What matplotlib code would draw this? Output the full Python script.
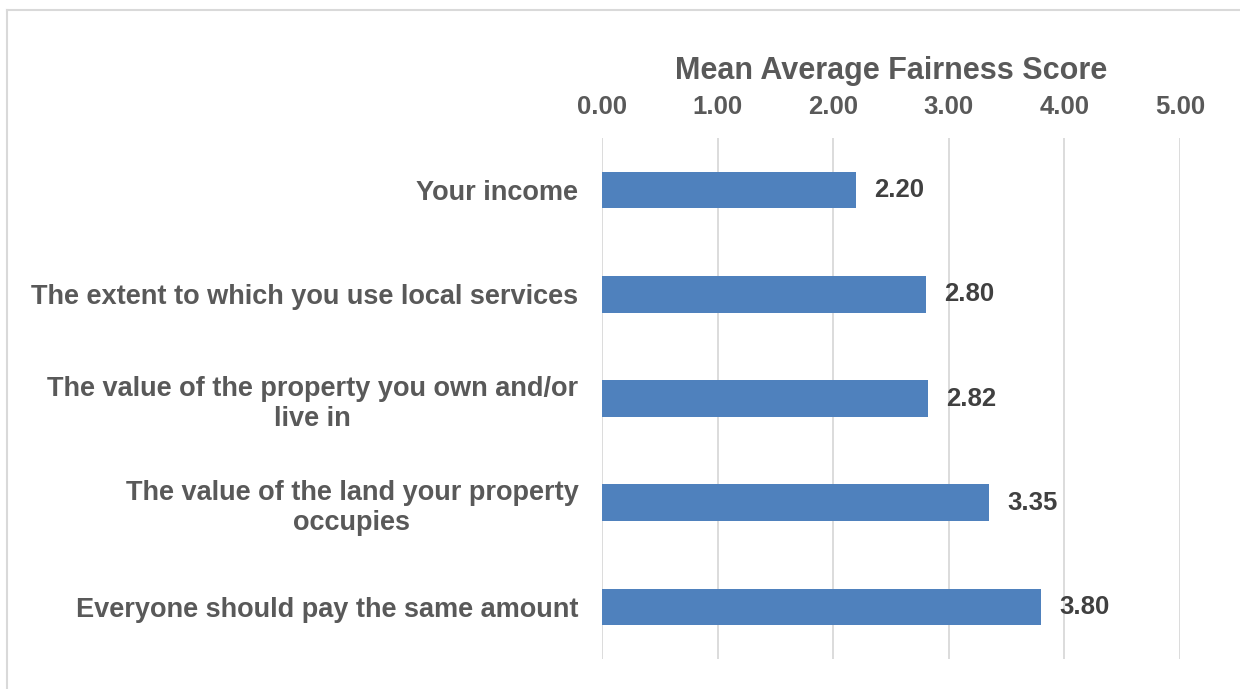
import matplotlib.pyplot as plt
from matplotlib.lines import Line2D

categories = [
    "Your income",
    "The extent to which you use local services",
    "The value of the property you own and/or\nlive in",
    "The value of the land your property\noccupies",
    "Everyone should pay the same amount",
]
scores = [2.20, 2.80, 2.82, 3.35, 3.80]
ticks = [0, 1, 2, 3, 4, 5]

plt.rcParams['font.family'] = ['Liberation Sans', 'DejaVu Sans']
plt.rcParams['font.weight'] = 'bold'

text_col = '#595959'
grid_col = '#d9d9d9'
bar_col = '#4f81bd'

fig = plt.figure(figsize=(12.4, 6.89), dpi=100)
ax = fig.add_axes([602 / 1240, 1 - 659 / 689, 578 / 1240, 521 / 689])

y = list(range(len(categories)))
ax.barh(y, scores, height=0.35, color=bar_col, zorder=3)

for yi, v in zip(y, scores):
    ax.annotate(f"{v:.2f}", (v, yi), xytext=(13, 0), textcoords='offset points',
                ha='left', va='center', fontsize=18.5, fontweight='bold', color='#404040')

ax.set_xlim(0, 5)
ax.set_ylim(len(categories) - 0.5, -0.5)
ax.set_xticks(ticks)
ax.set_xticklabels([f"{t:.2f}" for t in ticks])
ax.xaxis.tick_top()
ax.xaxis.set_label_position('top')
ax.set_xlabel("Mean Average Fairness Score", fontsize=22, fontweight='bold',
              color=text_col, labelpad=11.5)
ax.tick_params(axis='x', length=0, pad=14, labelsize=18.5, labelcolor=text_col)
ax.set_yticks(y)
ax.set_yticklabels(categories, multialignment='center', linespacing=1.2)
ax.tick_params(axis='y', length=0, pad=17, labelsize=19.5, labelcolor=text_col)

ax.grid(axis='x', color=grid_col, linewidth=1.3, zorder=0)
for s in ax.spines.values():
    s.set_visible(False)

# outer chart border (cut off at right and bottom)
fig.add_artist(Line2D([7 / 1240, 7 / 1240], [0, 1 - 10 / 689], color='#d9d9d9', lw=1.5,
                      transform=fig.transFigure))
fig.add_artist(Line2D([7 / 1240, 1], [1 - 10 / 689, 1 - 10 / 689], color='#d9d9d9', lw=1.5,
                      transform=fig.transFigure))

fig.savefig('out.png', dpi=100)
